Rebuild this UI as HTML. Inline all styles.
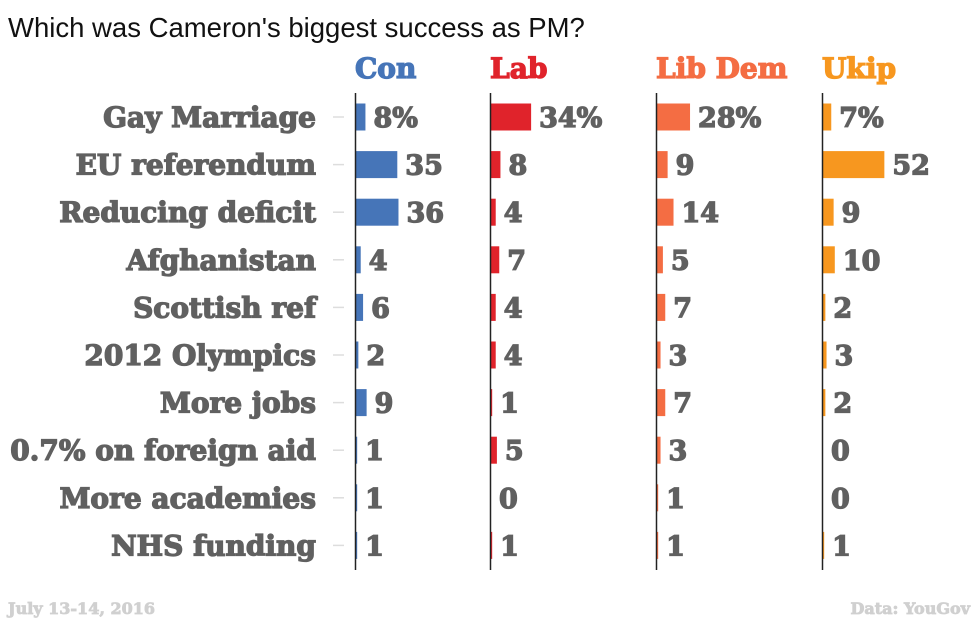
<!DOCTYPE html>
<html><head><meta charset="utf-8"><style>
body{margin:0;background:#fff}
svg{display:block}
.lbl{font-family:"DejaVu Serif","Liberation Serif",serif;font-weight:bold;fill:#606060;stroke:#606060;stroke-width:1.3;paint-order:stroke}
</style></head><body>
<svg id="c" width="980" height="620">
<text x="8" y="37" font-family="Liberation Sans, sans-serif" font-size="27.5" fill="#111">Which was Cameron's biggest success as PM?</text>
<text x="8" y="614" class="lbl" font-size="16" style="fill:#d0d0d0;stroke:#d0d0d0;stroke-width:0.8">July 13-14, 2016</text>
<text x="970" y="614" class="lbl" font-size="16" text-anchor="end" style="fill:#d0d0d0;stroke:#d0d0d0;stroke-width:0.8">Data: YouGov</text>
</svg>
<script>
const categories=["Gay Marriage","EU referendum","Reducing deficit","Afghanistan","Scottish ref","2012 Olympics","More jobs","0.7% on foreign aid","More academies","NHS funding"];
const parties=["Con","Lab","Lib Dem","Ukip"];
const con=[8,35,36,4,6,2,9,1,1,1];
const lab=[34,8,4,7,4,4,1,5,0,1];
const libdem=[28,9,14,5,7,3,7,3,1,1];
const ukip=[7,52,9,10,2,3,2,0,0,1];
const series=[con,lab,libdem,ukip];
const colors=["#4675b8","#e0232b","#f46d43","#f7971f"];
const axisX=[356,491,657,823];
const svg=document.getElementById('c');
const NS="http://www.w3.org/2000/svg";
const scale=1.18,row0=117,rowH=47.6,barH=27;
const y=i=>row0+i*rowH;
const xv=v=>v*scale;
function mk(t,a){const e=document.createElementNS(NS,t);for(const k in a)e.setAttribute(k,a[k]);svg.appendChild(e);return e;}
categories.forEach((c,i)=>{
  const t=mk('text',{x:316,y:y(i)+10,'text-anchor':'end','font-size':28,class:'lbl'});
  
  
  t.textContent=c;
  const tk=mk('line',{x1:333,x2:344,y1:y(i),y2:y(i),stroke:'#ddd','stroke-width':1.5});
  
  
});
parties.forEach((p,j)=>{
  const x0=axisX[j];
  const h=mk('text',{x:x0-1,y:78,'font-size':28,class:'lbl',style:'fill:'+colors[j]+';stroke:'+colors[j]});
  
  
  h.textContent=p;
  series[j].forEach((v,i)=>{
    const w=xv(v);
    const r=mk('rect',{x:x0,y:y(i)-barH/2,width:w,height:barH,fill:colors[j]});
    
    
    const t=mk('text',{x:x0+w+8,y:y(i)+10,'font-size':27,class:'lbl'});
    
    
    t.textContent=v+(i===0?'%':'');
  });
  const a=mk('line',{x1:x0-0.5,x2:x0-0.5,y1:93,y2:570,stroke:'#222','stroke-width':1.5});
  
  
});
</script>
</body></html>
